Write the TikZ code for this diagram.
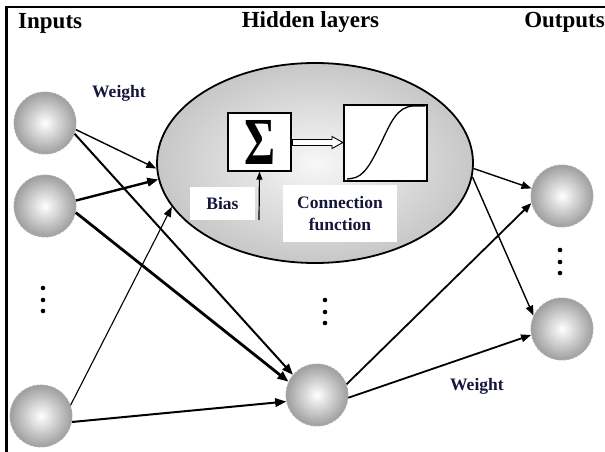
\documentclass[tikz,border=0pt]{standalone}
\usepackage{fontspec}
\usepackage{graphicx}
\setmainfont{Liberation Serif}
\usetikzlibrary{arrows.meta,shapes.geometric}
\definecolor{labelc}{RGB}{22,22,60}
\begin{document}
\begin{tikzpicture}[x=1pt,y=-1pt,
  neuron/.style={circle, minimum size=62pt, inner sep=0pt, shading=radial,
    inner color=white, outer color=black!38, draw=black!32,
    dash pattern=on 3pt off 1.2pt, line width=0.9pt},
  head/.style={font=\bfseries\fontsize{23}{27}\selectfont, inner sep=0pt},
  lab/.style={font=\bfseries\fontsize{17.5}{22}\selectfont, text=labelc, inner sep=0pt},
  conn/.style={-{Triangle[length=10pt,width=7.5pt]}, line width=1.4pt},
  thickc/.style={-{Triangle[length=11pt,width=8.5pt]}, line width=2.4pt},
  boxc/.style={draw, line width=1.4pt, fill=white, inner sep=0pt},
]
\useasboundingbox (0,0) rectangle (605,452);
% frame
\draw[line width=2.8pt, line join=miter] (6.7,452) -- (6.7,7) -- (606,7);
% headings
\node[head, anchor=base west] (tin) at (18,29) {Inputs};
\node[head, anchor=base] (thid) at (310.5,28) {Hidden layers};
\node[head, anchor=base east] (tout) at (605,28) {Outputs};
% hidden layer ellipse
\node[ellipse, minimum width=316pt, minimum height=200pt, inner sep=0pt, draw,
  line width=1.8pt, shading=radial, inner color=black!3, outer color=black!22] (ell) at (315,163) {};
% sum box
\node[boxc, minimum width=63pt, minimum height=58pt] (sigma) at (259.5,142)
  {\resizebox{31pt}{44pt}{\bfseries Σ}};
% activation box
\node[boxc, minimum width=83pt, minimum height=76pt] (sig) at (385.5,143) {};
\draw[line width=1.3pt] (347,179) -- (351,178.5)
  .. controls (364,177.5) and (371,163) .. (381,143)
  .. controls (391,122) and (397,107) .. (413,106) -- (425,106);
% hollow double arrow
\draw[line width=0.9pt, fill=white, line join=miter]
  (292.5,139.5) -- (332,139.5) -- (332,136.5) -- (343,142.5) -- (332,148.5)
  -- (332,145.5) -- (292.5,145.5) -- cycle;
% bias
\node[lab, fill=white, minimum width=65pt, minimum height=33pt] (bias) at (222.5,203.5) {Bias};
\coordinate (biasfoot) at (259,220);
\draw[-{Triangle[length=8pt,width=6pt]}, line width=1.2pt] (biasfoot) -- (sigma.south);
% connection function
\node[lab, fill=white, minimum width=114pt, minimum height=57pt, align=center] (cf)
  at (340,213.5) {Connection\\function};
% neurons
\node[neuron] (in1) at (45,123) {};
\node[neuron] (in2) at (45,206) {};
\node[neuron] (in3) at (41,416) {};
\node[neuron] (hid) at (317,395) {};
\node[neuron] (out1) at (562,196) {};
\node[neuron] (out2) at (562,329) {};
% weight labels
\node[lab, anchor=base west] (w1) at (92,97) {Weight};
\node[lab, anchor=base west] (w2) at (450,390) {Weight};
% dots
\foreach \yy in {288,300,311} \fill (43,\yy) circle (2.3);
\foreach \yy in {300,312,323} \fill (325,\yy) circle (2.3);
\foreach \yy in {250,262,273} \fill (560,\yy) circle (2.3);
% connectors
\draw[conn] (in1.-12) -- (ell.182);
\draw[thickc, line width=2pt] (in1.-20) -- (hid.140);
\draw[thickc] (in2.10) -- (ell.186);
\draw[thickc, line width=2.8pt] (in2.-12) -- (hid.155);
\draw[conn, line width=1.1pt] (in3.20) -- (ell.197);
\draw[thickc, line width=2pt] (in3.-11) -- (hid.192);
\draw[conn] (ell.-2) -- (out1.166);
\draw[conn] (ell.-5) -- (out2.155);
\draw[conn, line width=1.8pt] (hid.20) -- (out1.193);
\draw[conn, line width=1.8pt] (hid.-5) -- (out2.191);
\end{tikzpicture}
\end{document}
